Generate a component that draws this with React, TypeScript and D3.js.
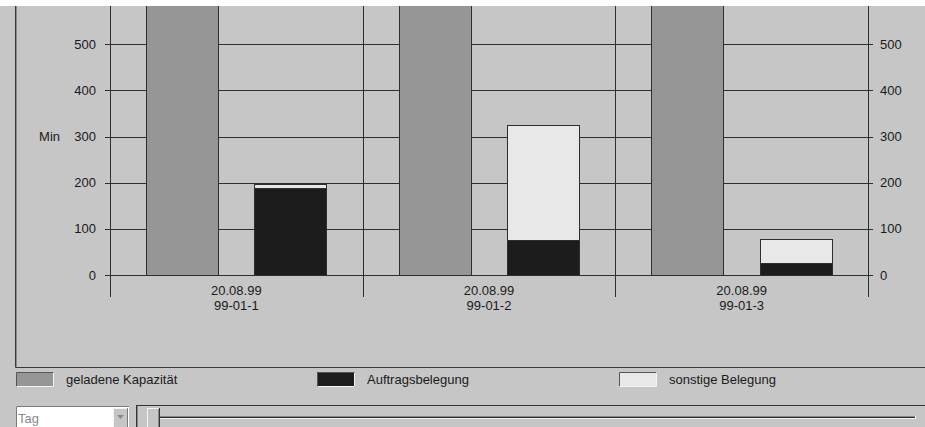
import React from 'react';
import * as d3 from 'd3';

const categories = ['99-01-1', '99-01-2', '99-01-3'];
const dates = ['20.08.99', '20.08.99', '20.08.99'];
const capacity = [660, 660, 660];
const auftrag = [188, 75, 25];
const sonstige = [10, 250, 52];
const yTicks = [0, 100, 200, 300, 400, 500];
const seriesNames = ['geladene Kapazität', 'Auftragsbelegung', 'sonstige Belegung'];
const seriesColors = ['#969696', '#1c1c1c', '#e8e8e8'];

const W = 925;
const H = 427;
const BG = '#c6c6c6';
const LINE = '#2e2e2e';
const FONT = '"Liberation Sans", Arial, sans-serif';

export default function App() {
  const x0 = 110, x1 = 868;
  const yTop = 6, yBase = 275;
  const x = d3.scaleBand<string>().domain(categories).range([x0, x1]).padding(0);
  const inner = d3.scaleBand<string>().domain(['cap', 'stack']).range([0, x.bandwidth()])
    .paddingInner(1 / 3).paddingOuter(1 / 3);
  const y = d3.scaleLinear().domain([0, 583]).range([yBase, yTop]);

  const legendX = [16, 317, 619];

  return (
    <svg width={W} height={H} style={{ position: 'absolute', left: 0, top: 0, display: 'block' }} fontFamily={FONT}>
      <defs>
        <clipPath id="plotClip">
          <rect x={x0} y={yTop} width={x1 - x0} height={yBase - yTop + 1} />
        </clipPath>
      </defs>
      <rect x={0} y={0} width={W} height={H} fill={BG} />
      <rect x={0} y={0} width={W} height={yTop} fill="#ffffff" />
      {/* panel border */}
      <line x1={15.5} x2={15.5} y1={yTop} y2={367.5} stroke="#3a3a3a" />
      <line x1={15.5} x2={W} y1={367.5} y2={367.5} stroke="#3a3a3a" />
      <line x1={16.5} x2={16.5} y1={yTop} y2={367} stroke="#8a8a8a" />

      {/* horizontal gridlines + ticks */}
      {yTicks.map((t) => (
        <g key={t}>
          <line x1={x0 - 5} x2={x1 + 5} y1={Math.round(y(t)) + 0.5} y2={Math.round(y(t)) + 0.5} stroke={LINE} />
          <text x={96} y={y(t) + 4.5} textAnchor="end" fontSize={13} fill="#1a1a1a">{t}</text>
          <text x={880} y={y(t) + 4.5} textAnchor="start" fontSize={13} fill="#1a1a1a">{t}</text>
        </g>
      ))}
      <text x={60} y={y(300) + 4.5} textAnchor="end" fontSize={13} fill="#1a1a1a">Min</text>

      {/* vertical axis lines & category separators */}
      {[x0, ...categories.map((c) => (x(c) as number) + x.bandwidth())].map((v, i) => (
        <line key={i} x1={Math.round(v) + 0.5} x2={Math.round(v) + 0.5} y1={yTop} y2={297} stroke={LINE} />
      ))}

      {/* bars */}
      <g clipPath="url(#plotClip)">
        {categories.map((c, i) => {
          const bx = x(c) as number;
          const cx = Math.round(bx + (inner('cap') as number)) + 0.5;
          const sx = Math.round(bx + (inner('stack') as number)) + 0.5;
          const bw = Math.round(inner.bandwidth());
          return (
            <g key={c}>
              <rect x={cx} y={Math.round(y(capacity[i])) + 0.5} width={bw} height={Math.round(y(0) - y(capacity[i]))}
                fill={seriesColors[0]} stroke={LINE} />
              <rect x={sx} y={Math.round(y(auftrag[i] + sonstige[i])) + 0.5} width={bw}
                height={Math.round(y(auftrag[i]) - y(auftrag[i] + sonstige[i]))}
                fill={seriesColors[2]} stroke={LINE} />
              <rect x={sx} y={Math.round(y(auftrag[i])) + 0.5} width={bw}
                height={Math.round(y(0) - y(auftrag[i]))}
                fill={seriesColors[1]} stroke={LINE} />
            </g>
          );
        })}
      </g>

      {/* category labels */}
      {categories.map((c, i) => {
        const cx = (x(c) as number) + x.bandwidth() / 2;
        return (
          <g key={c}>
            <text x={cx} y={295} textAnchor="middle" fontSize={13} fill="#1a1a1a">{dates[i]}</text>
            <text x={cx} y={310} textAnchor="middle" fontSize={13} fill="#1a1a1a">{c}</text>
          </g>
        );
      })}

      {/* legend */}
      {seriesNames.map((n, i) => (
        <g key={n}>
          <rect x={legendX[i]} y={372} width={38} height={15} fill={seriesColors[i]} />
          <path d={`M${legendX[i] + 0.5},${386.5} V${372.5} H${legendX[i] + 37.5}`} fill="none" stroke="#555" />
          <path d={`M${legendX[i] + 0.5},${386.5} H${legendX[i] + 37.5} V${372.5}`} fill="none" stroke="#f4f4f4" />
          <text x={legendX[i] + 50} y={384} fontSize={13} fill="#1a1a1a">{n}</text>
        </g>
      ))}

      {/* bottom controls: combobox */}
      <rect x={16} y={406} width={113} height={22} fill="#ffffff" />
      <path d="M16.5,427 V406.5 H129" fill="none" stroke="#7a7a7a" />
      <text x={18} y={423} fontSize={13} fill="#8a8a8a">Tag</text>
      <rect x={113} y={408} width={15} height={19} fill={BG} />
      <path d="M113.5,427 V408.5 H128" fill="none" stroke="#f4f4f4" />
      <line x1={127.5} x2={127.5} y1={408} y2={427} stroke="#7a7a7a" />
      <path d="M117,415 L124,415 L120.5,419 Z" fill="#8a8a8a" />

      {/* slider */}
      <line x1={136} x2={W} y1={405.5} y2={405.5} stroke="#333" />
      <line x1={136.5} x2={136.5} y1={405} y2={H} stroke="#333" />
      <line x1={137.5} x2={137.5} y1={406} y2={H} stroke="#8a8a8a" />
      <line x1={160} x2={915} y1={417.5} y2={417.5} stroke="#2a2a2a" />
      <line x1={160} x2={915} y1={416.5} y2={416.5} stroke="#8a8a8a" />
      <line x1={160} x2={916} y1={418.5} y2={418.5} stroke="#f4f4f4" />
      <line x1={915.5} x2={915.5} y1={416} y2={419} stroke="#f4f4f4" />
      <rect x={147} y={408} width={13} height={19} fill={BG} />
      <path d="M147.5,427 V408.5 H159" fill="none" stroke="#f4f4f4" />
      <line x1={159.5} x2={159.5} y1={408} y2={H} stroke="#333" />
      <line x1={158.5} x2={158.5} y1={409} y2={H} stroke="#8a8a8a" />
    </svg>
  );
}
